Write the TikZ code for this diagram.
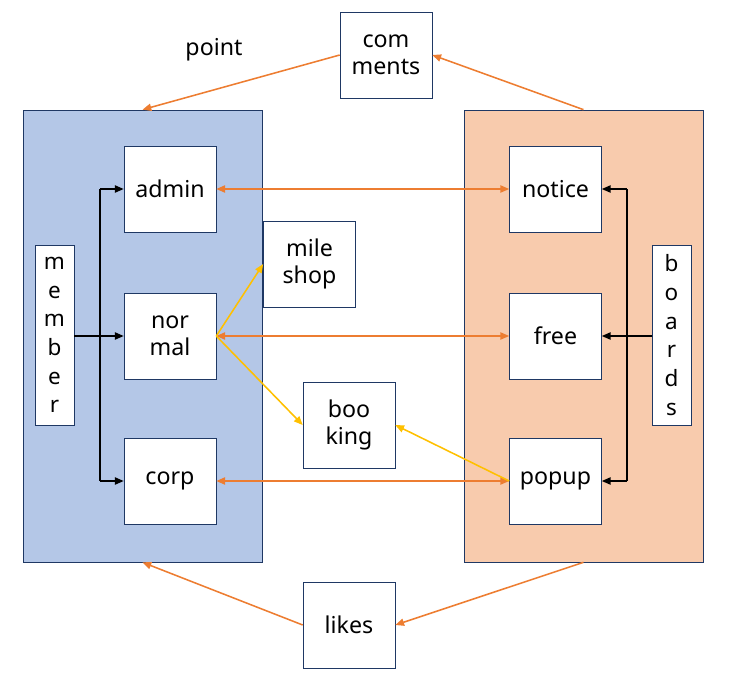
\documentclass[tikz,border=0pt]{standalone}
\usepackage{fontspec}
\setmainfont{Noto Sans}
\usetikzlibrary{arrows.meta}

\definecolor{edgenavy}{HTML}{1F3864}
\definecolor{memberblue}{HTML}{B4C7E7}
\definecolor{boardpeach}{HTML}{F8CBAD}
\definecolor{linkorange}{HTML}{ED7D31}
\definecolor{linkyellow}{HTML}{FFC000}

\tikzset{
  area/.style={draw=edgenavy, minimum width=5.975cm, minimum height=11.3cm, inner sep=0pt},
  box/.style={draw=edgenavy, fill=white, minimum width=2.3cm, minimum height=2.15cm, inner sep=0pt, align=center, font=\fontsize{16.5}{19.5}\selectfont},
  tallbox/.style={draw=edgenavy, fill=white, minimum width=0.975cm, minimum height=4.5cm, inner sep=0pt, align=center, font=\fontsize{16}{20.4}\selectfont},
  tip/.style={-{Triangle[length=2.2mm, width=1.8mm]}},
  both/.style={{Triangle[length=2.2mm, width=1.8mm]}-{Triangle[length=2.2mm, width=1.8mm]}},
  orangeline/.style={linkorange, line width=1.1pt},
  yellowline/.style={linkyellow, line width=1.1pt},
  blackline/.style={black, line width=1.1pt}
}

\begin{document}
\begin{tikzpicture}[x=0.025cm, y=-0.025cm]
  \useasboundingbox (0,0) rectangle (732,678);

  % the two groups
  \node[area, fill=memberblue] (memberarea) at (142.5,336) {};
  \node[area, fill=boardpeach] (boardarea) at (583.5,336) {};

  % member side
  \node[box] (admin) at (170,189) {admin};
  \node[box] (normal) at (170,336) {nor\\mal};
  \node[box] (corp) at (170,481) {corp};
  \node[tallbox] (member) at (54.5,335) {m\\e\\m\\b\\e\\r};

  % board side
  \node[box] (notice) at (555.5,189) {notice};
  \node[box] (free) at (555.5,336) {free};
  \node[box] (popup) at (555.5,481) {popup};
  \node[tallbox] (boards) at (671.5,335) {b\\o\\a\\r\\d\\s};

  % middle boxes
  \node[box] (mileshop) at (309.5,264) {mile\\shop};
  \node[box] (booking) at (349,425) {boo\\king};
  \node[box] (comments) at (386,55) {com\\ments};
  \node[box] (likes) at (349,625) {likes};
  \node[font=\fontsize{16.5}{19.5}\selectfont] (point) at (214,50) {point};

  % member tree
  \coordinate (mfork) at (100,336);
  \coordinate (mtop) at (100,189);
  \coordinate (mbot) at (100,481);
  \draw[blackline, tip] (member.east |- mfork) -- (normal.west);
  \draw[blackline] (mtop) -- (mbot);
  \draw[blackline, tip] (mtop) -- (admin.west);
  \draw[blackline, tip] (mbot) -- (corp.west);

  % boards tree
  \coordinate (bfork) at (627,336);
  \coordinate (btop) at (627,189);
  \coordinate (bbot) at (627,481);
  \draw[blackline, tip] (boards.west |- bfork) -- (free.east);
  \draw[blackline] (btop) -- (bbot);
  \draw[blackline, tip] (btop) -- (notice.east);
  \draw[blackline, tip] (bbot) -- (popup.east);

  % links across
  \draw[orangeline, both] (admin.east) -- (notice.west);
  \draw[orangeline, both] (normal.east) -- (free.west);
  \draw[orangeline, both] (corp.east) -- (popup.west);

  % yellow links
  \draw[yellowline, tip] (normal.east) -- (mileshop.west);
  \draw[yellowline, tip] (normal.east) -- (booking.west);
  \draw[yellowline, tip] (popup.west) -- (booking.east);

  % comments and likes
  \draw[orangeline, tip] (comments.west) -- (memberarea.north);
  \draw[orangeline, tip] (boardarea.north) -- (comments.east);
  \draw[orangeline, tip] (boardarea.south) -- (likes.east);
  \draw[orangeline, tip] (likes.west) -- (memberarea.south);
\end{tikzpicture}
\end{document}
